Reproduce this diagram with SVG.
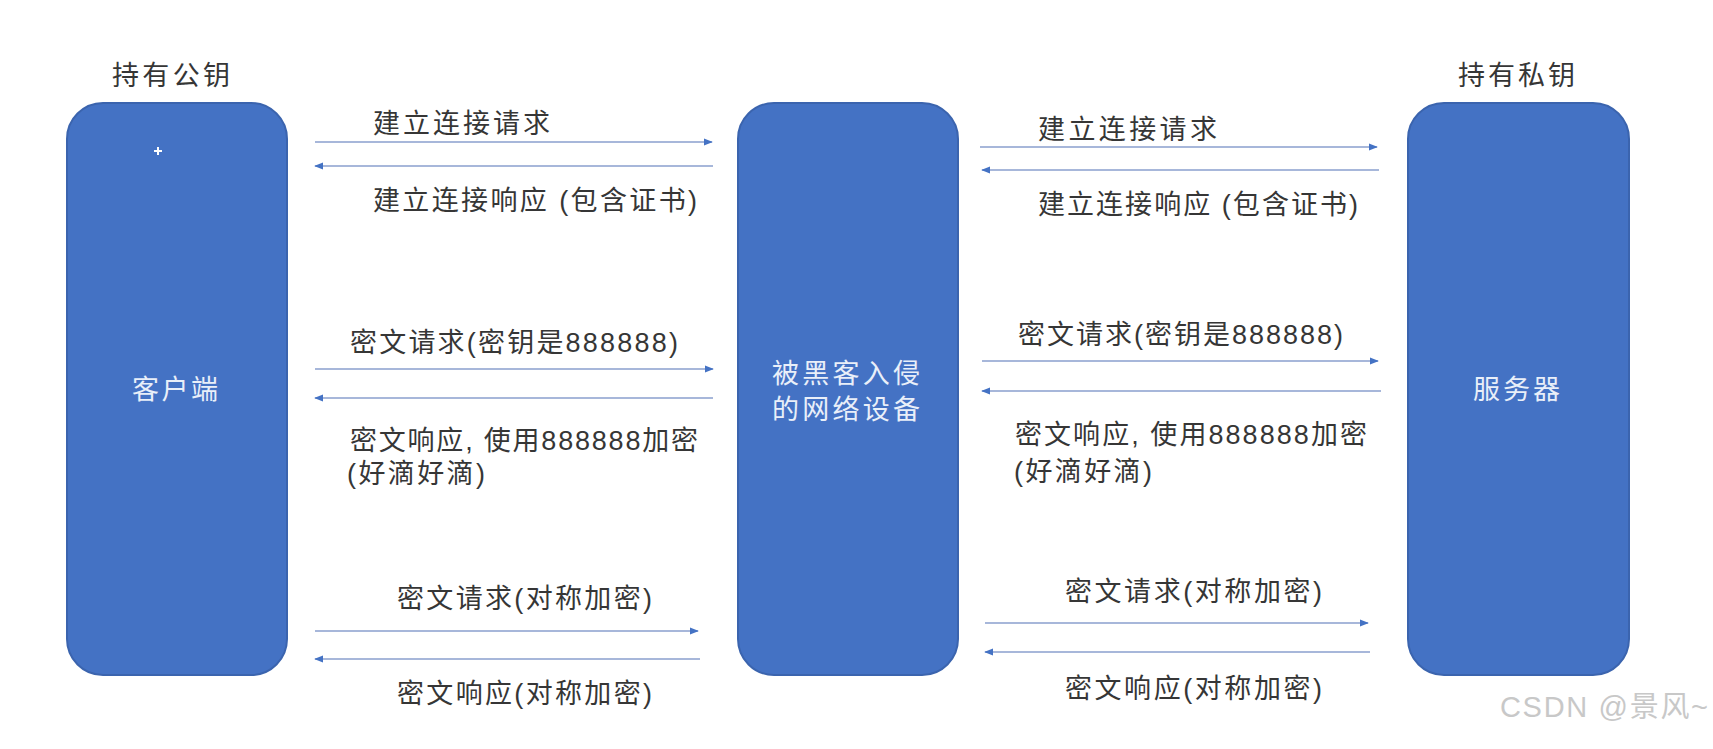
<svg xmlns="http://www.w3.org/2000/svg" width="1713" height="749" viewBox="0 0 1713 749">
<style>
.box{fill:#4472C4;stroke:#3B64AE;stroke-width:2}
.lbl{font-family:"Liberation Sans","Noto Sans CJK SC",sans-serif;font-size:27px;fill:#363636}
.in{font-family:"Liberation Sans","Noto Sans CJK SC",sans-serif;font-size:27px;fill:#E9EFF9}
.ln{stroke:#A7B7DA;stroke-width:2;fill:none}
.wm{font-family:"Liberation Sans","Noto Sans CJK SC",sans-serif;font-size:29px;fill:#C8C8C8}
</style>
<defs>
<marker id="ah" viewBox="0 0 10 10" refX="9" refY="5" markerWidth="9" markerHeight="9" markerUnits="userSpaceOnUse" orient="auto">
<path d="M0,1 L10,5 L0,9 Z" fill="#4472C4"/>
</marker>
</defs>
<rect width="1713" height="749" fill="#FFFFFF"/>
<g id="client">
<text class="lbl" x="112" y="85" textLength="118" lengthAdjust="spacing">持有公钥</text>
<rect class="box" x="67" y="103" width="220" height="572" rx="36" ry="36"/>
<path d="M158,147 v8 M154,151 h8" stroke="#FFFFFF" stroke-width="2"/>
<text class="in" x="132" y="399" textLength="86" lengthAdjust="spacing">客户端</text>
</g>
<g id="hacked-device">
<rect class="box" x="738" y="103" width="220" height="572" rx="36" ry="36"/>
<text class="in" x="772" y="383" textLength="148" lengthAdjust="spacing">被黑客入侵</text>
<text class="in" x="772" y="419" textLength="148" lengthAdjust="spacing">的网络设备</text>
</g>
<g id="server">
<text class="lbl" x="1458" y="85" textLength="117" lengthAdjust="spacing">持有私钥</text>
<rect class="box" x="1408" y="103" width="221" height="572" rx="36" ry="36"/>
<text class="in" x="1473" y="399" textLength="87" lengthAdjust="spacing">服务器</text>
</g>
<g id="connectors">
<line class="ln" x1="315" y1="142" x2="712" y2="142" marker-end="url(#ah)"/>
<line class="ln" x1="713" y1="166" x2="315" y2="166" marker-end="url(#ah)"/>
<line class="ln" x1="315" y1="369" x2="713" y2="369" marker-end="url(#ah)"/>
<line class="ln" x1="713" y1="398" x2="315" y2="398" marker-end="url(#ah)"/>
<line class="ln" x1="315" y1="631" x2="698" y2="631" marker-end="url(#ah)"/>
<line class="ln" x1="700" y1="659" x2="315" y2="659" marker-end="url(#ah)"/>
<line class="ln" x1="980" y1="147" x2="1377" y2="147" marker-end="url(#ah)"/>
<line class="ln" x1="1379" y1="170" x2="982" y2="170" marker-end="url(#ah)"/>
<line class="ln" x1="982" y1="361" x2="1378" y2="361" marker-end="url(#ah)"/>
<line class="ln" x1="1381" y1="391" x2="982" y2="391" marker-end="url(#ah)"/>
<line class="ln" x1="985" y1="623" x2="1368" y2="623" marker-end="url(#ah)"/>
<line class="ln" x1="1370" y1="652" x2="985" y2="652" marker-end="url(#ah)"/>
<text class="lbl" x="373" y="133" textLength="177" lengthAdjust="spacing">建立连接请求</text>
<text class="lbl" x="373" y="210" textLength="324" lengthAdjust="spacing">建立连接响应 (包含证书)</text>
<text class="lbl" x="350" y="352" textLength="328" lengthAdjust="spacing">密文请求(密钥是888888)</text>
<text class="lbl" x="350" y="450" textLength="348" lengthAdjust="spacing">密文响应, 使用888888加密</text>
<text class="lbl" x="347" y="483" textLength="138" lengthAdjust="spacing">(好滴好滴)</text>
<text class="lbl" x="397" y="608" textLength="255" lengthAdjust="spacing">密文请求(对称加密)</text>
<text class="lbl" x="397" y="703" textLength="255" lengthAdjust="spacing">密文响应(对称加密)</text>
<text class="lbl" x="1038" y="139" textLength="179" lengthAdjust="spacing">建立连接请求</text>
<text class="lbl" x="1038" y="214" textLength="320" lengthAdjust="spacing">建立连接响应 (包含证书)</text>
<text class="lbl" x="1018" y="344" textLength="325" lengthAdjust="spacing">密文请求(密钥是888888)</text>
<text class="lbl" x="1015" y="444" textLength="352" lengthAdjust="spacing">密文响应, 使用888888加密</text>
<text class="lbl" x="1014" y="481" textLength="138" lengthAdjust="spacing">(好滴好滴)</text>
<text class="lbl" x="1065" y="601" textLength="257" lengthAdjust="spacing">密文请求(对称加密)</text>
<text class="lbl" x="1065" y="698" textLength="257" lengthAdjust="spacing">密文响应(对称加密)</text>
</g>
<text class="wm" x="1500" y="717" textLength="208" lengthAdjust="spacing">CSDN @景风~</text>
</svg>
